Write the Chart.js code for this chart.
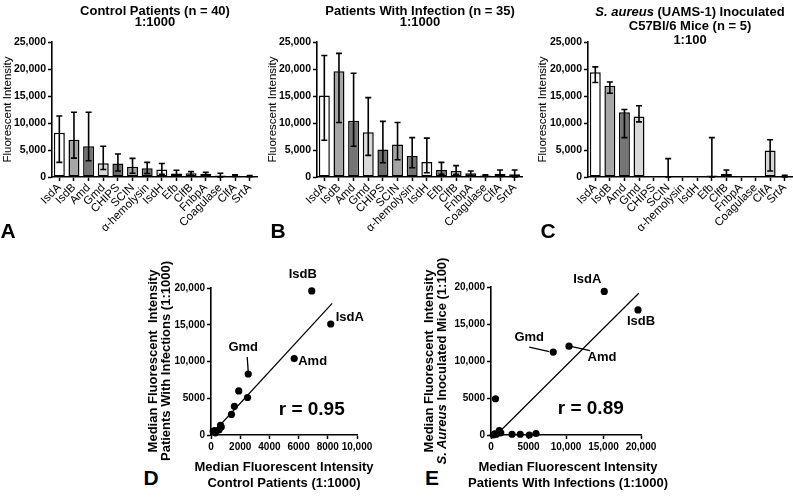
<!DOCTYPE html>
<html><head><meta charset="utf-8">
<script src="https://cdn.jsdelivr.net/npm/chart.js@4.4.1/dist/chart.umd.min.js"></script>
<style>
html,body{margin:0;padding:0;background:#fff;width:793px;height:497px;overflow:hidden;}
body{position:relative;font-family:"Liberation Sans",Arial,sans-serif;color:#000;}
canvas{position:absolute;}
.t{position:absolute;font-weight:bold;font-size:13px;text-align:center;white-space:nowrap;}
.L{position:absolute;font-weight:bold;font-size:21px;line-height:20px;width:30px;text-align:center;}
.rot{position:absolute;transform:rotate(-90deg);font-weight:bold;font-size:13px;line-height:13px;text-align:center;white-space:nowrap;width:260px;height:26px;}
</style></head><body>
<canvas id="cA" width="265" height="262" style="left:0px;top:0px;width:265px;height:262px"></canvas>
<canvas id="cB" width="265" height="262" style="left:265px;top:0px;width:265px;height:262px"></canvas>
<canvas id="cC" width="258" height="262" style="left:535px;top:0px;width:258px;height:262px"></canvas>
<canvas id="cD" width="215" height="210" style="left:170px;top:260px;width:215px;height:210px"></canvas>
<canvas id="cE" width="210" height="210" style="left:450px;top:260px;width:210px;height:210px"></canvas>

<div class="t" style="left:5px;top:4.5px;width:300px;line-height:11px">Control Patients (n = 40)<br>1:1000</div>
<div class="t" style="left:270px;top:4.5px;width:300px;line-height:11px">Patients With Infection (n = 35)<br>1:1000</div>
<div class="t" style="left:540px;top:5px;width:300px;line-height:14px"><i>S. aureus</i> (UAMS-1) Inoculated<br>C57Bl/6 Mice (n = 5)<br>1:100</div>

<div class="L" style="left:-7px;top:221px">A</div>
<div class="L" style="left:263px;top:221px">B</div>
<div class="L" style="left:533px;top:221px">C</div>
<div class="L" style="left:136px;top:468px">D</div>
<div class="L" style="left:417px;top:468px">E</div>

<div class="rot" style="left:29px;top:348px">Median Fluorescent&nbsp; Intensity<br>Patients With Infections (1:1000)</div>
<div class="rot" style="left:304.5px;top:348px">Median Fluorescent&nbsp; Intensity<br><i>S. Aureus</i> Inoculated Mice (1:100)</div>
<div class="t" style="left:134px;top:459px;width:300px;line-height:16px">Median Fluorescent Intensity<br>Control Patients (1:1000)</div>
<div class="t" style="left:418px;top:459px;width:300px;line-height:16px">Median Fluorescent Intensity<br>Patients With Infections (1:1000)</div>

<script>
// ---------- DATA ----------
const categories = ['IsdA','IsdB','Amd','Gmd','CHIPS','SCIN','α-hemolysin','IsdH','Efb','ClfB','FnbpA','Coagulase','ClfA','SrtA'];

const controlMedian = [8200, 6900, 5700, 2550, 2500, 1900, 1600, 1400, 650, 700, 550, 300, 250, 150];
const controlLow    = [2700, 3500, 3000, 1400, 1100,  700,  650,  500, 150, 300, 250,   0, 100,  50];
const controlHigh   = [11300,12000,12000,5700, 4250, 3450, 2700, 2500,1250,1000, 850, 700, 400, 250];

const infectionMedian = [15100,19600,10400,8300,5100,6000,3900,2800,1300,1100, 700, 300, 600, 500];
const infectionLow    = [6800, 10100, 5700,4000,2650,3200,1700, 800, 500, 500, 300, 100, 100,   0];
const infectionHigh   = [22500,22900,19200,14700,10300,10100,7300,7200,2700,2100,1100,400,1300,1300];

const mouseMedian = [19400,16900,12000,11200,0, 200,100,100, 300, 600,100,0,4900,150];
const mouseLow    = [17500,15500, 7300,10200,0,   0,100,100,   0, 200,100,0,1100,  0];
const mouseHigh   = [20400,17600,12500,13200,0,3400,100,100,7300,1300,100,0,6900,300];

const barYTicks = ['0','5,000','10,000','15,000','20,000','25,000'];
const dXTicks = ['0','2000','4000','6000','8000','10,000'];
const dYTicks = ['0','5000','10,000','15,000','20,000'];
const eXTicks = ['0','5000','10,000','15,000','20,000'];
const eYTicks = ['0','5000','10,000','15,000','20,000'];

// regression line end points
const regDx = [0, 8300];
const regDy = [0, 17900];
const regEx = [700, 19700];
const regEy = [0, 19150];

const corrD = 'r = 0.95';
const corrE = 'r = 0.89';

// ---------- STYLE ----------
const barColors = ['#ffffff','#a6a6a6','#747474','#d9d9d9','#6c6c6c','#a3a3a3','#727272','#f0f0f0','#7e7e7e','#cfcfcf','#979797','#bdbdbd','#d6d6d6','#777777'];
const FONT = '"Liberation Sans", Arial, sans-serif';
Chart.defaults.font.family = FONT;
Chart.defaults.color = '#000';

const errorBarPlugin = {
  id: 'errbars',
  afterDatasetsDraw(chart, args, o) {
    const ctx = chart.ctx, ys = chart.scales.y;
    const meta = chart.getDatasetMeta(0);
    ctx.save();
    ctx.strokeStyle = '#000'; ctx.lineWidth = 1.6; ctx.lineCap = 'butt';
    meta.data.forEach((bar, i) => {
      if (o.high[i] === o.low[i]) return;
      const x = bar.x, cap = 3;
      const y1 = ys.getPixelForValue(o.low[i]), y2 = ys.getPixelForValue(o.high[i]);
      ctx.beginPath();
      ctx.moveTo(x, y1); ctx.lineTo(x, y2);
      ctx.moveTo(x - cap, y1); ctx.lineTo(x + cap, y1);
      ctx.moveTo(x - cap, y2); ctx.lineTo(x + cap, y2);
      ctx.stroke();
    });
    ctx.restore();
  }
};

function barChart(id, H, padRight, yAxisW, values, low, high) {
  return new Chart(document.getElementById(id), {
    type: 'bar',
    data: { labels: categories, datasets: [{
      data: values, backgroundColor: barColors, borderColor: '#000', borderWidth: 1.5,
      borderSkipped: false, barPercentage: 0.75, categoryPercentage: 1, minBarLength: 1
    }]},
    options: {
      responsive: false, animation: false, events: [],
      layout: { padding: { left: 0, right: padRight, top: 42, bottom: 0 } },
      plugins: { legend: { display: false }, tooltip: { enabled: false }, errbars: { low: low, high: high } },
      scales: {
        x: {
          grid: { display: true, drawOnChartArea: false, offset: false, tickLength: 4, tickColor: '#000', tickWidth: 1.5 },
          border: { display: true, color: '#000', width: 1.6 },
          ticks: { autoSkip: false, minRotation: 45, maxRotation: 45, padding: 0, font: { size: 11.5 }, color: '#000' },
          afterFit(s) { s.height = H - 177; s.paddingLeft = 0; s.paddingRight = 0; }
        },
        y: {
          min: 0, max: 25000,
          ticks: { stepSize: 5000, callback: (v, i) => barYTicks[i], font: { size: 10.5, weight: 'bold' }, padding: 2, color: '#000' },
          grid: { display: true, drawOnChartArea: false, tickLength: 4, tickColor: '#000', tickWidth: 1.5 },
          border: { display: true, color: '#000', width: 1.6 },
          title: { display: true, text: 'Fluorescent Intensity', font: { size: 11.5 }, padding: { top: 1, bottom: 0 }, color: '#000' },
          afterFit(s) { s.width = yAxisW; s.paddingTop = 0; s.paddingBottom = 0; }
        }
      }
    },
    plugins: [errorBarPlugin]
  });
}

barChart('cA', 262, 8, 52, controlMedian, controlLow, controlHigh);
barChart('cB', 262, 8, 52, infectionMedian, infectionLow, infectionHigh);
barChart('cC', 262, 1, 53, mouseMedian, mouseLow, mouseHigh);

const annotPlugin = {
  id: 'annot',
  afterDatasetsDraw(chart, args, o) {
    const ctx = chart.ctx;
    const meta = chart.getDatasetMeta(0);
    ctx.save();
    ctx.fillStyle = '#000'; ctx.strokeStyle = '#000';
    ctx.font = 'bold 13px ' + FONT;
    ctx.textBaseline = 'middle';
    o.labels.forEach(l => {
      const p = meta.data[categories.indexOf(l.name)];
      ctx.textAlign = l.align || 'center';
      ctx.fillText(l.name, p.x + l.dx, p.y + l.dy);
      if (l.leader) {
        ctx.lineWidth = 1.3;
        ctx.beginPath();
        ctx.moveTo(p.x + l.leader[0], p.y + l.leader[1]);
        ctx.lineTo(p.x + l.leader[2], p.y + l.leader[3]);
        ctx.stroke();
      }
    });
    ctx.font = 'bold 19px ' + FONT;
    ctx.textAlign = 'center';
    ctx.fillText(o.rText, chart.scales.x.getPixelForValue(o.rAt[0]), chart.scales.y.getPixelForValue(o.rAt[1]));
    ctx.restore();
  }
};

function scatterChart(id, H, padTop, bottom, padRight, xs, ys, xMax, xStep, xTicks, yTicks, regX, regY, annot) {
  const pts = categories.map((c, i) => ({ x: xs[i], y: ys[i] }));
  const reg = regX.map((x, i) => ({ x: x, y: regY[i] }));
  return new Chart(document.getElementById(id), {
    type: 'scatter',
    data: { datasets: [
      { data: pts, pointRadius: 3.6, pointBackgroundColor: '#000', pointBorderWidth: 0, clip: false },
      { type: 'line', data: reg, showLine: true, pointRadius: 0, borderColor: '#000', borderWidth: 1.2, fill: false, clip: false }
    ]},
    options: {
      responsive: false, animation: false, events: [],
      layout: { padding: { left: 0, right: padRight, top: padTop, bottom: 0 } },
      plugins: { legend: { display: false }, tooltip: { enabled: false }, annot: annot },
      scales: {
        x: {
          type: 'linear', min: 0, max: xMax,
          ticks: { stepSize: xStep, autoSkip: false, callback: (v, i) => xTicks[i], font: { size: 10, weight: 'bold' }, padding: 2, color: '#000', maxRotation: 0, minRotation: 0 },
          grid: { display: true, drawOnChartArea: false, tickLength: 4, tickColor: '#000', tickWidth: 1.5 },
          border: { display: true, color: '#000', width: 1.6 },
          afterFit(s) { s.height = H - bottom; s.paddingLeft = 0; s.paddingRight = 0; }
        },
        y: {
          type: 'linear', min: 0, max: 20000,
          ticks: { stepSize: 5000, autoSkip: false, callback: (v, i) => yTicks[i], font: { size: 10, weight: 'bold' }, padding: 2, color: '#000' },
          grid: { display: true, drawOnChartArea: false, tickLength: 4, tickColor: '#000', tickWidth: 1.5 },
          border: { display: true, color: '#000', width: 1.6 },
          afterFit(s) { s.width = 41; s.paddingTop = 0; s.paddingBottom = 0; }
        }
      }
    },
    plugins: [annotPlugin]
  });
}

scatterChart('cD', 210, 28, 175, 28, controlMedian, infectionMedian, 10000, 2000, dXTicks, dYTicks, regDx, regDy, {
  labels: [
    { name: 'IsdB', dx: -9, dy: -17 },
    { name: 'IsdA', dx: 5, dy: -7, align: 'left' },
    { name: 'Amd', dx: 4, dy: 3, align: 'left' },
    { name: 'Gmd', dx: -5, dy: -27, leader: [-1, -17, 0, -2] }
  ],
  rText: corrD, rAt: [6900, 3500]
});

scatterChart('cE', 210, 27, 175, 19, infectionMedian, mouseMedian, 20000, 5000, eXTicks, eYTicks, regEx, regEy, {
  labels: [
    { name: 'IsdA', dx: -17, dy: -12 },
    { name: 'IsdB', dx: 3, dy: 11 },
    { name: 'Gmd', dx: -24, dy: -15, leader: [-24, -5, -4, -0.5] },
    { name: 'Amd', dx: 33, dy: 11, leader: [3, 0.5, 21, 4.5] }
  ],
  rText: corrE, rAt: [13300, 3500]
});
</script>
</body></html>
